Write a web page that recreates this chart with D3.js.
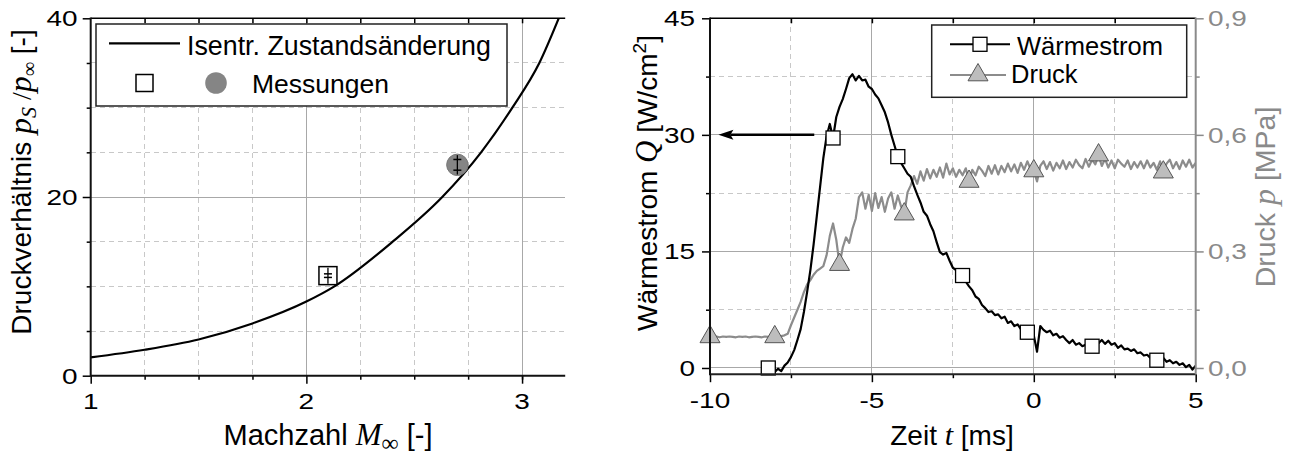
<!DOCTYPE html>
<html>
<head>
<meta charset="utf-8">
<script src="https://cdn.jsdelivr.net/npm/d3@7"></script>
<style>
  html, body { margin: 0; padding: 0; background: #fff; }
  svg { display: block; }
</style>
</head>
<body>
<svg id="fig" width="1289" height="455"></svg>
<script>
// ---------- left panel: pressure ratio vs. Mach number ----------
const machGrid        = [1.0, 1.25, 1.5, 1.75, 2.0, 2.13, 2.4, 2.63, 2.81, 2.955, 3.08, 3.17];
const isentropicRatio = [2.05, 2.9, 4.05, 5.85, 8.3, 10.0, 15.0, 20.0, 25.0, 30.0, 35.0, 40.0];
const measMach  = [2.1, 2.7];
const measRatio = [11.2, 23.6];
const measError = [0.2, 0.6];
const measKind  = ["square", "circle"];
const machTicks  = [1, 2, 3];
const ratioTicks = [0, 20, 40];

// ---------- right panel: heat flux and pressure vs. time ----------
const timeMs = [
  -10, -9.9, -9.8, -9.7, -9.6, -9.5, -9.4, -9.3, -9.2, -9.1,
  -9, -8.9, -8.8, -8.7, -8.6, -8.5, -8.4, -8.3, -8.2, -8.1,
  -8, -7.9, -7.8, -7.7, -7.6, -7.5, -7.4, -7.3, -7.2, -7.1,
  -7, -6.9, -6.8, -6.7, -6.6, -6.5, -6.4, -6.3, -6.2, -6.1,
  -6, -5.9, -5.8, -5.7, -5.6, -5.5, -5.4, -5.3, -5.2, -5.1,
  -5, -4.9, -4.8, -4.7, -4.6, -4.5, -4.4, -4.3, -4.2, -4.1,
  -4, -3.9, -3.8, -3.7, -3.6, -3.5, -3.4, -3.3, -3.2, -3.1,
  -3, -2.9, -2.8, -2.7, -2.6, -2.5, -2.4, -2.3, -2.2, -2.1,
  -2, -1.9, -1.8, -1.7, -1.6, -1.5, -1.4, -1.3, -1.2, -1.1,
  -1, -0.9, -0.8, -0.7, -0.6, -0.5, -0.4, -0.3, -0.2, -0.1,
  0, 0.1, 0.2, 0.3, 0.4, 0.5, 0.6, 0.7, 0.8, 0.9,
  1, 1.1, 1.2, 1.3, 1.4, 1.5, 1.6, 1.7, 1.8, 1.9,
  2, 2.1, 2.2, 2.3, 2.4, 2.5, 2.6, 2.7, 2.8, 2.9,
  3, 3.1, 3.2, 3.3, 3.4, 3.5, 3.6, 3.7, 3.8, 3.9,
  4, 4.1, 4.2, 4.3, 4.4, 4.5, 4.6, 4.7, 4.8, 4.9,
  5
];
// heat flux Q in W/cm^2 (no signal recorded before -8.2 ms)
const heatFlux = [
  null, null, null, null, null, null, null, null, null, null,
  null, null, null, null, null, null, null, null, 0.0, -0.2,
  -0.5, -0.1, -0.4, 0.3, 0.7, 1.4, 2.3, 3.6, 5.0, 7.2,
  9.8, 12.6, 15.9, 19.6, 23.3, 27.0, 29.8, 31.4, 29.6, 32.3,
  33.6, 34.6, 35.9, 37.3, 37.8, 37.0, 37.6, 37.0, 37.1, 36.2,
  35.9, 35.2, 34.7, 33.8, 32.9, 31.6, 30.0, 28.6, 27.2, 26.4,
  25.7, 25.0, 24.6, 23.4, 22.3, 21.3, 20.1, 19.6, 18.5, 17.6,
  16.2, 14.9, 14.6, 14.8, 13.8, 12.9, 12.6, 12.3, 11.9, 11.1,
  10.5, 10.0, 9.2, 8.9, 8.1, 7.7, 7.2, 7.3, 6.8, 6.9,
  6.4, 6.6, 5.8, 6.0, 5.4, 5.6, 5.0, 5.1, 4.6, 4.4,
  4.2, 2.1, 5.4, 4.9, 4.6, 4.8, 4.2, 4.4, 3.9, 4.1,
  3.6, 3.2, 3.6, 3.0, 3.2, 2.8, 3.0, 2.7, 2.8, 2.9,
  3.2, 3.6, 3.1, 3.5, 3.0, 3.2, 2.6, 2.9, 2.4, 2.5,
  2.2, 2.4, 1.9, 2.0, 1.6, 1.7, 1.3, 1.4, 1.0, 1.1,
  1.3, 0.8, 1.0, 0.6, 0.8, 0.4, 0.6, 0.1, 0.4, -0.2,
  0.3
];
// pressure p in MPa
const pressureMPa = [
  0.080, 0.080, 0.081, 0.079, 0.081, 0.080, 0.081, 0.080, 0.079, 0.081,
  0.080, 0.081, 0.079, 0.080, 0.081, 0.080, 0.079, 0.081, 0.080, 0.081,
  0.080, 0.081, 0.082, 0.084, 0.088, 0.110, 0.130, 0.150, 0.170, 0.195,
  0.215, 0.226, 0.240, 0.250, 0.256, 0.262, 0.290, 0.340, 0.372, 0.330,
  0.266, 0.310, 0.336, 0.322, 0.358, 0.384, 0.440, 0.452, 0.410, 0.446,
  0.404, 0.450, 0.412, 0.440, 0.402, 0.436, 0.452, 0.410, 0.444, 0.416,
  0.396, 0.452, 0.470, 0.494, 0.474, 0.506, 0.482, 0.512, 0.488, 0.510,
  0.492, 0.516, 0.490, 0.526, 0.498, 0.514, 0.492, 0.510, 0.496, 0.514,
  0.480, 0.510, 0.496, 0.518, 0.508, 0.494, 0.520, 0.500, 0.522, 0.498,
  0.520, 0.504, 0.526, 0.506, 0.524, 0.502, 0.528, 0.510, 0.532, 0.512,
  0.507, 0.480, 0.520, 0.532, 0.512, 0.530, 0.508, 0.528, 0.514, 0.534,
  0.512, 0.530, 0.516, 0.536, 0.522, 0.514, 0.538, 0.518, 0.536, 0.524,
  0.548, 0.520, 0.538, 0.516, 0.534, 0.514, 0.536, 0.526, 0.518, 0.534,
  0.512, 0.530, 0.516, 0.532, 0.514, 0.534, 0.516, 0.528, 0.510, 0.532,
  0.504, 0.526, 0.536, 0.514, 0.530, 0.512, 0.534, 0.518, 0.536, 0.516,
  0.528
];
const heatMarkerTimes     = [-8.2, -6.2, -4.2, -2.2, -0.2, 1.8, 3.8];
const pressureMarkerTimes = [-10, -8, -6, -4, -2, 0, 2, 4];
const timeTicks      = [-10, -5, 0, 5];
const heatTicks      = [0, 15, 30, 45];
const pressureTicks  = [0, 0.3, 0.6, 0.9];
const arrowFromTime  = -6.78;
const arrowToTime    = -9.74;
const arrowHeatLevel = 30;

// ---------- drawing ----------
const SANS  = '"Liberation Sans", Arial, Helvetica, sans-serif';
const SERIF = '"Liberation Serif", "Times New Roman", serif';
const GRAY_AXIS = "#8a8a8a";
const GRID_MAJOR = "#a8a8a8";
const GRID_MINOR = "#c8c8c8";
const TICK_FONT = 22;
const TICK_STRETCH = 1.27;   // tick numerals are set wide

const svg = d3.select("#fig");
svg.append("rect").attr("width", 1289).attr("height", 455).attr("fill", "#fff");

function gridLines(g, vals, scale, orient, a, b, dashed) {
  g.selectAll(null).data(vals).enter().append("line")
    .attr("x1", d => orient === "v" ? scale(d) : a)
    .attr("x2", d => orient === "v" ? scale(d) : b)
    .attr("y1", d => orient === "v" ? a : scale(d))
    .attr("y2", d => orient === "v" ? b : scale(d))
    .attr("stroke", dashed ? GRID_MINOR : GRID_MAJOR)
    .attr("stroke-width", 1)
    .attr("stroke-dasharray", dashed ? "5,4" : null)
    .attr("shape-rendering", "crispEdges");
}

// tick marks only (labels are drawn separately)
function ticks(g, axisGen, tx, ty, color) {
  const s = g.append("g").attr("transform", `translate(${tx},${ty})`).call(axisGen.tickFormat(""));
  s.select(".domain").remove();
  s.selectAll(".tick line").attr("stroke", color).attr("stroke-width", 1.5);
  s.selectAll(".tick text").remove();
}

// wide numerals for tick labels
function tickLabels(g, vals, posFn, anchor, color, fmt) {
  g.selectAll(null).data(vals).enter().append("text")
    .attr("transform", d => { const p = posFn(d); return `translate(${p[0]},${p[1]}) scale(${TICK_STRETCH},1)`; })
    .attr("text-anchor", anchor)
    .attr("font-family", SANS).attr("font-size", TICK_FONT).attr("fill", color)
    .text(fmt);
}

// ===== left panel =====
const xM = d3.scaleLinear().domain([1, 3.2]).range([90.7, 565.2]);
const yR = d3.scaleLinear().domain([0, 40]).range([375.7, 18.3]);
const left = svg.append("g");

gridLines(left, [1.25, 1.5, 1.75, 2.25, 2.5, 2.75], xM, "v", yR(40), yR(0), true);
gridLines(left, [5, 10, 15, 25, 30, 35], yR, "h", xM(1), xM(3.2), true);
gridLines(left, [2, 3], xM, "v", yR(40), yR(0), false);
gridLines(left, [20], yR, "h", xM(1), xM(3.2), false);

// isentropic curve
const curveData = machGrid.map((m, i) => [m, isentropicRatio[i]]);
left.append("path")
  .attr("d", d3.line().x(d => xM(d[0])).y(d => yR(d[1])).curve(d3.curveMonotoneX)(curveData))
  .attr("fill", "none").attr("stroke", "#000").attr("stroke-width", 2.2);

// measurements with error bars
const meas = measMach.map((m, i) => ({ m, v: measRatio[i], e: measError[i], kind: measKind[i] }));
meas.forEach(d => {
  const cx = xM(d.m), cy = yR(d.v);
  const half = d.kind === "square" ? 9 : 10.7;
  if (d.kind === "square") {
    left.append("rect").attr("x", cx - 9).attr("y", cy - 9).attr("width", 18).attr("height", 18)
      .attr("fill", "#fff").attr("stroke", "#000").attr("stroke-width", 1.5);
  } else {
    left.append("circle").attr("cx", cx).attr("cy", cy).attr("r", 10.7)
      .attr("fill", "#858585").attr("stroke", "#777").attr("stroke-width", 1);
  }
  left.append("line").attr("x1", cx).attr("x2", cx).attr("y1", cy - half + 1).attr("y2", cy + half - 1)
    .attr("stroke", "#000").attr("stroke-width", 1.3);
  [d.v - d.e, d.v + d.e].forEach(v => {
    left.append("line").attr("x1", cx - 4).attr("x2", cx + 4).attr("y1", yR(v)).attr("y2", yR(v))
      .attr("stroke", "#000").attr("stroke-width", 1.5);
  });
});

// axes
ticks(left, d3.axisBottom(xM).tickValues([1.25, 1.5, 1.75, 2.25, 2.5, 2.75, 3.0]).tickSize(4), 0, 375.7, "#000");
ticks(left, d3.axisBottom(xM).tickValues(machTicks).tickSize(8), 0, 375.7, "#000");
ticks(left, d3.axisLeft(yR).tickValues([5, 10, 15, 25, 30, 35]).tickSize(4), 90.7, 0, "#000");
ticks(left, d3.axisLeft(yR).tickValues(ratioTicks).tickSize(8), 90.7, 0, "#000");
ticks(left, d3.axisBottom(xM).tickValues([1.25, 1.5, 1.75, 2, 2.25, 2.5, 2.75, 3]).tickSize(5), 0, 18.3, "#000");
tickLabels(left, machTicks, d => [xM(d), 409], "middle", "#000", d => String(d));
tickLabels(left, ratioTicks, d => [77.5, yR(d) + 8], "end", "#000", d => String(d));

left.append("line").attr("x1", 90.7).attr("x2", 565.2).attr("y1", 18.3).attr("y2", 18.3)
  .attr("stroke", "#000").attr("stroke-width", 1.5);
left.append("line").attr("x1", 90.7).attr("x2", 565.2).attr("y1", 375.7).attr("y2", 375.7)
  .attr("stroke", "#111").attr("stroke-width", 2);
left.append("line").attr("x1", 90.7).attr("x2", 90.7).attr("y1", 17.5).attr("y2", 376.7)
  .attr("stroke", "#111").attr("stroke-width", 2);

// legend
const lg = left.append("g");
lg.append("rect").attr("x", 96).attr("y", 24).attr("width", 411).attr("height", 82)
  .attr("fill", "#fff").attr("stroke", "#222").attr("stroke-width", 1.5);
lg.append("line").attr("x1", 109).attr("x2", 180).attr("y1", 43.3).attr("y2", 43.3)
  .attr("stroke", "#000").attr("stroke-width", 2.2);
lg.append("text").attr("x", 187).attr("y", 55).attr("font-family", SANS).attr("font-size", 26.8)
  .text("Isentr. Zustandsänderung");
lg.append("rect").attr("x", 136).attr("y", 74.5).attr("width", 17).attr("height", 17)
  .attr("fill", "#fff").attr("stroke", "#000").attr("stroke-width", 1.5);
lg.append("circle").attr("cx", 216).attr("cy", 83).attr("r", 10.8).attr("fill", "#858585");
lg.append("text").attr("x", 252).attr("y", 93).attr("font-family", SANS).attr("font-size", 26.5)
  .text("Messungen");

// axis titles
const tx = svg.append("text").attr("font-family", SANS).attr("font-size", 29)
  .attr("text-anchor", "middle").attr("x", 328).attr("y", 445);
tx.append("tspan").text("Machzahl   ");
tx.append("tspan").attr("font-family", SERIF).attr("font-style", "italic").attr("font-size", 31).text("M");
tx.append("tspan").attr("font-family", SERIF).attr("font-size", 24).attr("dy", 6).text("∞");
tx.append("tspan").attr("dy", -6).text(" [-]");

const ty = svg.append("text").attr("font-family", SANS).attr("font-size", 28)
  .attr("text-anchor", "middle").attr("transform", "translate(31,182) rotate(-90)");
ty.append("tspan").text("Druckverhältnis  ");
ty.append("tspan").attr("font-family", SERIF).attr("font-style", "italic").attr("font-size", 32).text("p");
ty.append("tspan").attr("font-family", SERIF).attr("font-style", "italic").attr("font-size", 22).attr("dy", 5).text("S");
ty.append("tspan").attr("dy", -5).attr("font-family", SERIF).attr("font-size", 28).text(" /");
ty.append("tspan").attr("font-family", SERIF).attr("font-style", "italic").attr("font-size", 32).text("p");
ty.append("tspan").attr("font-family", SERIF).attr("font-size", 20).attr("dy", 5).text("∞");
ty.append("tspan").attr("dy", -5).text(" [-]");

// ===== right panel =====
const xT = d3.scaleLinear().domain([-10, 5]).range([710, 1195.7]);
const yQ = d3.scaleLinear().domain([-0.8, 45]).range([374.2, 18.3]);
const yP = d3.scaleLinear().domain([-0.016, 0.9]).range([374.2, 18.3]);
const right = svg.append("g");

gridLines(right, [-7.5, -2.5, 2.5], xT, "v", yQ(45), yQ(-0.8), true);
gridLines(right, [7.5, 22.5, 37.5], yQ, "h", xT(-10), xT(5), true);
gridLines(right, [-5, 0], xT, "v", yQ(45), yQ(-0.8), false);
gridLines(right, [0, 15, 30], yQ, "h", xT(-10), xT(5), false);

const series = timeMs.map((t, i) => ({ t, q: heatFlux[i], p: pressureMPa[i] }));

const clip = svg.append("defs").append("clipPath").attr("id", "rclip");
clip.append("rect").attr("x", xT(-10)).attr("y", yQ(45)).attr("width", xT(5) - xT(-10)).attr("height", yQ(-0.8) - yQ(45));

right.append("path")
  .attr("clip-path", "url(#rclip)")
  .attr("d", d3.line().x(d => xT(d.t)).y(d => yP(d.p))(series))
  .attr("fill", "none").attr("stroke", "#8c8c8c").attr("stroke-width", 2.2).attr("stroke-linejoin", "round");
right.append("path")
  .attr("clip-path", "url(#rclip)")
  .attr("d", d3.line().defined(d => d.q !== null).x(d => xT(d.t)).y(d => yQ(d.q))(series))
  .attr("fill", "none").attr("stroke", "#000").attr("stroke-width", 2.2).attr("stroke-linejoin", "round");

const byTime = new Map(series.map(d => [d.t, d]));
const triPath = "M0,-11.5L10,5.8L-10,5.8Z";
right.selectAll(null).data(pressureMarkerTimes.map(t => byTime.get(t))).enter().append("path")
  .attr("d", triPath)
  .attr("transform", d => `translate(${xT(d.t)},${yP(d.p)})`)
  .attr("fill", "#bdbdbd").attr("stroke", "#555").attr("stroke-width", 1);
right.selectAll(null).data(heatMarkerTimes.map(t => byTime.get(t))).enter().append("rect")
  .attr("x", d => xT(d.t) - 7).attr("y", d => yQ(d.q) - 7).attr("width", 14).attr("height", 14)
  .attr("fill", "#fff").attr("stroke", "#000").attr("stroke-width", 1.3);

// arrow pointing to the heat-flux axis
right.append("line").attr("x1", xT(arrowFromTime)).attr("x2", xT(arrowToTime) + 12)
  .attr("y1", yQ(arrowHeatLevel)).attr("y2", yQ(arrowHeatLevel))
  .attr("stroke", "#000").attr("stroke-width", 2.5);
right.append("path")
  .attr("d", `M${xT(arrowToTime)},${yQ(arrowHeatLevel)}l15,-5l-3,5l3,5z`)
  .attr("fill", "#000");

// axes
ticks(right, d3.axisBottom(xT).tickValues([-7.5, -2.5, 2.5]).tickSize(4), 0, 374.2, "#000");
ticks(right, d3.axisBottom(xT).tickValues(timeTicks).tickSize(8), 0, 374.2, "#000");
ticks(right, d3.axisBottom(xT).tickValues([-7.5, -5, -2.5, 0, 2.5]).tickSize(5), 0, 18.3, "#000");
ticks(right, d3.axisLeft(yQ).tickValues([7.5, 22.5, 37.5]).tickSize(4), 710, 0, "#000");
ticks(right, d3.axisLeft(yQ).tickValues(heatTicks).tickSize(8), 710, 0, "#000");
ticks(right, d3.axisRight(yP).tickValues([0.15, 0.45, 0.75]).tickSize(4), 1195.7, 0, GRAY_AXIS);
ticks(right, d3.axisRight(yP).tickValues(pressureTicks).tickSize(8), 1195.7, 0, GRAY_AXIS);
tickLabels(right, timeTicks, d => [xT(d), 408], "middle", "#000", d => String(d));
tickLabels(right, heatTicks, d => [695, yQ(d) + 8], "end", "#000", d => String(d));
tickLabels(right, pressureTicks, d => [1208 / TICK_STRETCH * TICK_STRETCH, yP(d) + 8], "start", GRAY_AXIS,
  d => d3.format(".1f")(d).replace(".", ","));

right.append("line").attr("x1", 710).attr("x2", 1195.7).attr("y1", 18.3).attr("y2", 18.3)
  .attr("stroke", "#000").attr("stroke-width", 1.5);
right.append("line").attr("x1", 710).attr("x2", 1195.7).attr("y1", 374.2).attr("y2", 374.2)
  .attr("stroke", "#222").attr("stroke-width", 2);
right.append("line").attr("x1", 710).attr("x2", 710).attr("y1", 17.5).attr("y2", 375.2)
  .attr("stroke", "#111").attr("stroke-width", 2);
right.append("line").attr("x1", 1195.7).attr("x2", 1195.7).attr("y1", 17.5).attr("y2", 374.2)
  .attr("stroke", GRAY_AXIS).attr("stroke-width", 2);

// legend
const rg = right.append("g");
rg.append("rect").attr("x", 931.7).attr("y", 25).attr("width", 255).attr("height", 72.3)
  .attr("fill", "#fff").attr("stroke", "#222").attr("stroke-width", 1.5);
rg.append("line").attr("x1", 950).attr("x2", 1010).attr("y1", 44.3).attr("y2", 44.3)
  .attr("stroke", "#000").attr("stroke-width", 2);
rg.append("rect").attr("x", 973).attr("y", 37.3).attr("width", 14).attr("height", 14)
  .attr("fill", "#fff").attr("stroke", "#000").attr("stroke-width", 1.3);
rg.append("text").attr("x", 1017).attr("y", 55).attr("font-family", SANS).attr("font-size", 25.5)
  .text("Wärmestrom");
rg.append("line").attr("x1", 950).attr("x2", 1006).attr("y1", 75).attr("y2", 75)
  .attr("stroke", "#8c8c8c").attr("stroke-width", 2);
rg.append("path").attr("d", triPath).attr("transform", "translate(978,75)")
  .attr("fill", "#bdbdbd").attr("stroke", "#555").attr("stroke-width", 1);
rg.append("text").attr("x", 1011).attr("y", 83).attr("font-family", SANS).attr("font-size", 25.5)
  .text("Druck");

// axis titles
const tx2 = svg.append("text").attr("font-family", SANS).attr("font-size", 28)
  .attr("text-anchor", "middle").attr("x", 952).attr("y", 445);
tx2.append("tspan").text("Zeit ");
tx2.append("tspan").attr("font-family", SERIF).attr("font-style", "italic").attr("font-size", 30).text("t");
tx2.append("tspan").text(" [ms]");

const tyQ = svg.append("text").attr("font-family", SANS).attr("font-size", 28)
  .attr("text-anchor", "middle").attr("transform", "translate(657,183) rotate(-90)");
tyQ.append("tspan").text("Wärmestrom ");
tyQ.append("tspan").attr("font-family", SERIF).attr("font-style", "italic").attr("font-size", 31).text("Q");
tyQ.append("tspan").text(" [W/cm");
tyQ.append("tspan").attr("font-size", 19).attr("dy", -11).text("2");
tyQ.append("tspan").attr("dy", 11).text("]");

const tyP = svg.append("text").attr("font-family", SANS).attr("font-size", 28.5).attr("fill", GRAY_AXIS)
  .attr("text-anchor", "middle").attr("transform", "translate(1275,197) rotate(-90)");
tyP.append("tspan").text("Druck  ");
tyP.append("tspan").attr("font-family", SERIF).attr("font-style", "italic").attr("font-size", 32).text("p");
tyP.append("tspan").text("   [MPa]");
</script>
</body>
</html>
